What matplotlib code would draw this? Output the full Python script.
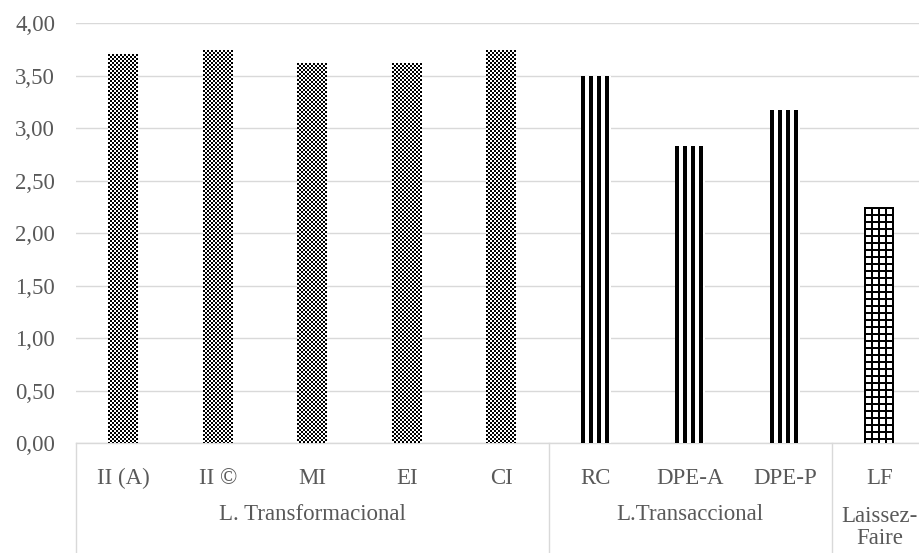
import numpy as np
import matplotlib
matplotlib.use("Agg")
import matplotlib.pyplot as plt
import matplotlib.transforms as mtransforms

# Mean scores per leadership dimension
categories = ["II (A)", "II \u00a9", "MI", "EI", "CI", "RC", "DPE-A", "DPE-P", "LF"]
values = [3.71, 3.75, 3.62, 3.62, 3.75, 3.50, 2.83, 3.17, 2.25]
groups = ["L. Transformacional", "L.Transaccional", "Laissez-\nFaire"]
group_sizes = [5, 3, 1]
patterns = ["checker"] * 5 + ["stripes"] * 3 + ["grid"]
yticks = [0.0, 0.5, 1.0, 1.5, 2.0, 2.5, 3.0, 3.5, 4.0]

W, H, DPI = 919, 553, 100
TEXT = "#595959"
LINE = "#d9d9d9"
FONT = "Liberation Serif"
FS = 16.5

plt.rcParams["font.family"] = [FONT, "DejaVu Serif"]

fig = plt.figure(figsize=(W / DPI, H / DPI), dpi=DPI)
fig.patch.set_facecolor("white")
ax = fig.add_axes([76 / W, (H - 443.3) / H, 850.5 / W, 420 / H])
ax.set_facecolor("white")

x = np.arange(len(categories))
bar_w = 0.32
bars = ax.bar(x, values, width=bar_w, color="none", edgecolor="none", linewidth=0, zorder=3)

ax.set_xlim(-0.5, len(categories) - 0.5)
ax.set_ylim(0, 4.0)
ax.set_yticks(yticks)
ax.set_yticklabels([f"{v:.2f}".replace(".", ",") for v in yticks],
                   fontsize=FS, color=TEXT, family=FONT)
ax.tick_params(axis="y", length=0, pad=15)
ax.set_xticks([])
for s in ["left", "right", "top"]:
    ax.spines[s].set_visible(False)
ax.spines["bottom"].set_color(LINE)
ax.spines["bottom"].set_linewidth(1.0)
ax.yaxis.grid(True, color=LINE, linewidth=1.0)
ax.set_axisbelow(True)


def pattern(kind, w, h):
    ii, jj = np.mgrid[0:h, 0:w]
    if kind == "checker":
        on = ((ii // 2 + jj // 2) % 2) == 0
    elif kind == "stripes":
        on = (jj % 8) < 4
    else:
        on = ((ii % 7) < 2) | ((jj % 7) < 2)
    img = np.ones((h, w, 4), dtype=np.uint8) * 255
    img[on, :3] = 0
    return img


# Fill each bar with its pattern, aligned to the pixel grid
for rect, kind in zip(bars, patterns):
    x0, y0 = ax.transData.transform((rect.get_x(), 0))
    x1, y1 = ax.transData.transform((rect.get_x() + rect.get_width(), rect.get_height()))
    xo, yo = int(round(x0)), int(round(y0))
    w, h = int(round(x1)) - xo, int(round(y1)) - yo
    fig.figimage(pattern(kind, w, h), xo=xo, yo=yo, zorder=5, origin="upper")

# Category labels (first level)
blend = mtransforms.blended_transform_factory(ax.transData, ax.transAxes)
row1 = (443.3 - 478) / 420
row2 = (443.3 - 515) / 420
for xi, lab in zip(x, categories):
    ax.text(xi, row1, lab, transform=blend, ha="center", va="center",
            fontsize=FS, color=TEXT, family=FONT)

# Group labels (second level) and separators
start = 0
ax.plot([-0.5, -0.5], [0, -0.5], transform=blend, color=LINE, lw=1.0, clip_on=False)
for name, n in zip(groups, group_sizes):
    center = start + (n - 1) / 2
    if "\n" in name:
        ax.text(center, (443.3 - 527.5) / 420, name, transform=blend, ha="center",
                va="center", fontsize=FS, color=TEXT, family=FONT, linespacing=1.0)
    else:
        ax.text(center, row2, name, transform=blend, ha="center", va="center",
                fontsize=FS, color=TEXT, family=FONT)
    start += n
    if start < len(categories):
        ax.plot([start - 0.5, start - 0.5], [0, -0.5], transform=blend,
                color=LINE, lw=1.0, clip_on=False)

fig.savefig("out.png", dpi=DPI, facecolor="white")
